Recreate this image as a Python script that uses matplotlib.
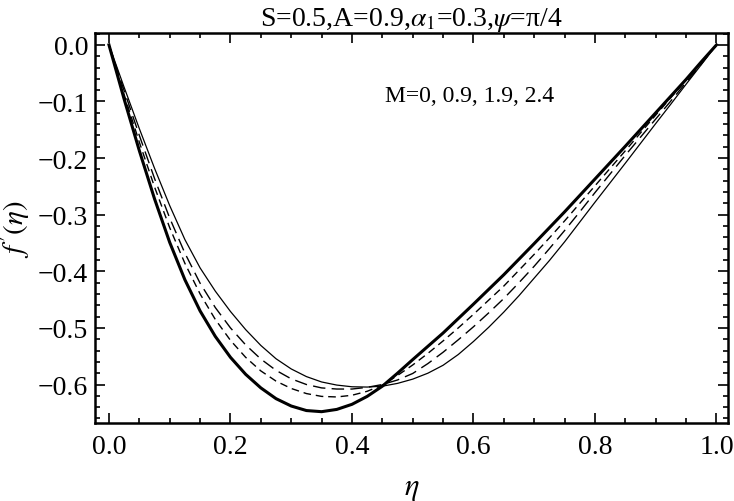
import matplotlib
matplotlib.use("Agg")
import matplotlib.pyplot as plt
from matplotlib.ticker import MultipleLocator, FuncFormatter

plt.rcParams['font.family'] = ['Liberation Serif', 'DejaVu Serif']
plt.rcParams['mathtext.fontset'] = 'stix'

eta = [0, 0.025, 0.05, 0.075, 0.1, 0.125, 0.15, 0.175, 0.2, 0.225, 0.25, 0.275,
       0.3, 0.325, 0.35, 0.375, 0.4, 0.425, 0.45, 0.475, 0.5, 0.525, 0.55, 0.575,
       0.6, 0.625, 0.65, 0.675, 0.7, 0.725, 0.75, 0.775, 0.8, 0.825, 0.85, 0.875,
       0.9, 0.925, 0.95, 0.975, 1.0]

f_M0 = [0, -0.096, -0.187, -0.272, -0.349, -0.415, -0.470, -0.515, -0.552, -0.582,
        -0.606, -0.625, -0.638, -0.646, -0.648, -0.644, -0.635, -0.621, -0.603,
        -0.580, -0.556, -0.5325, -0.509, -0.4835, -0.458, -0.432, -0.406, -0.3785,
        -0.351, -0.323, -0.295, -0.266, -0.237, -0.208, -0.179, -0.1495, -0.120,
        -0.0905, -0.061, -0.030, 0]
f_M09 = [0, -0.088, -0.172, -0.251, -0.323, -0.386, -0.440, -0.485, -0.522, -0.552,
         -0.576, -0.594, -0.607, -0.616, -0.621, -0.622, -0.619, -0.612, -0.601,
         -0.584, -0.5655, -0.545, -0.523, -0.500, -0.476, -0.451, -0.426, -0.398,
         -0.370, -0.341, -0.311, -0.280, -0.249, -0.218, -0.187, -0.1555, -0.124,
         -0.093, -0.0625, -0.031, 0]
f_M19 = [0, -0.081, -0.160, -0.236, -0.306, -0.368, -0.421, -0.464, -0.500, -0.530,
         -0.555, -0.575, -0.590, -0.600, -0.606, -0.608, -0.608, -0.605, -0.600,
         -0.592, -0.5805, -0.563, -0.543, -0.521, -0.498, -0.4735, -0.448, -0.420,
         -0.391, -0.360, -0.328, -0.295, -0.261, -0.228, -0.195, -0.163, -0.131,
         -0.099, -0.0665, -0.034, 0]
f_M24 = [0, -0.075, -0.148, -0.218, -0.284, -0.344, -0.394, -0.435, -0.471, -0.503,
         -0.531, -0.5545, -0.5725, -0.586, -0.5955, -0.601, -0.604, -0.6045, -0.603,
         -0.598, -0.5905, -0.580, -0.566, -0.547, -0.524, -0.499, -0.472, -0.443,
         -0.412, -0.381, -0.348, -0.313, -0.278, -0.2435, -0.209, -0.174, -0.139,
         -0.1045, -0.0695, -0.035, 0]

title_text = r"S=0.5,A=0.9,$\alpha_1$=0.3,$\psi$=π/4"
annot_text = "M=0, 0.9, 1.9, 2.4"
xlabel_text = r"$\eta$"
ylabel_text = r"$f\,'(\eta)$"


def fmt(v, pos):
    s = "%.1f" % abs(v)
    if v < -1e-9:
        return "\u2212" + s
    return s


fig = plt.figure(figsize=(7.34, 5.02), dpi=100)
ax = fig.add_axes([95/734, 1-424/502, (728-95)/734, (424-34)/502])

ax.plot(eta, f_M0, color='black', lw=2.2, solid_joinstyle='round')
ax.plot(eta, f_M09, color='black', lw=1.0, dashes=(5.5, 3.5))
ax.plot(eta, f_M19, color='black', lw=1.0, dashes=(9, 4.5))
ax.plot(eta, f_M24, color='black', lw=0.9, solid_joinstyle='round')

ax.set_xlim(-0.023, 1.019)
ax.set_ylim(-0.668, 0.021)

ax.xaxis.set_major_locator(MultipleLocator(0.2))
ax.xaxis.set_minor_locator(MultipleLocator(0.05))
ax.yaxis.set_major_locator(MultipleLocator(0.1))
ax.yaxis.set_minor_locator(MultipleLocator(0.02))
ax.xaxis.set_major_formatter(FuncFormatter(fmt))
ax.yaxis.set_major_formatter(FuncFormatter(fmt))

ax.tick_params(which='both', direction='in', top=True, right=True, width=1.2,
               labelsize=20)
ax.tick_params(axis='x', pad=8)
ax.tick_params(axis='y', pad=5)
ax.tick_params(which='major', length=7)
ax.tick_params(which='minor', length=3.5)
for s in ax.spines.values():
    s.set_linewidth(1.8)

ax.set_xlabel(xlabel_text, fontsize=22, labelpad=10)
ax.set_ylabel(ylabel_text, fontsize=21, labelpad=4)
ax.set_title(title_text, fontsize=20, pad=6)
ax.text(0.594, -0.09, annot_text, fontsize=17, ha='center', va='center')

fig.savefig("out.png", dpi=100)
